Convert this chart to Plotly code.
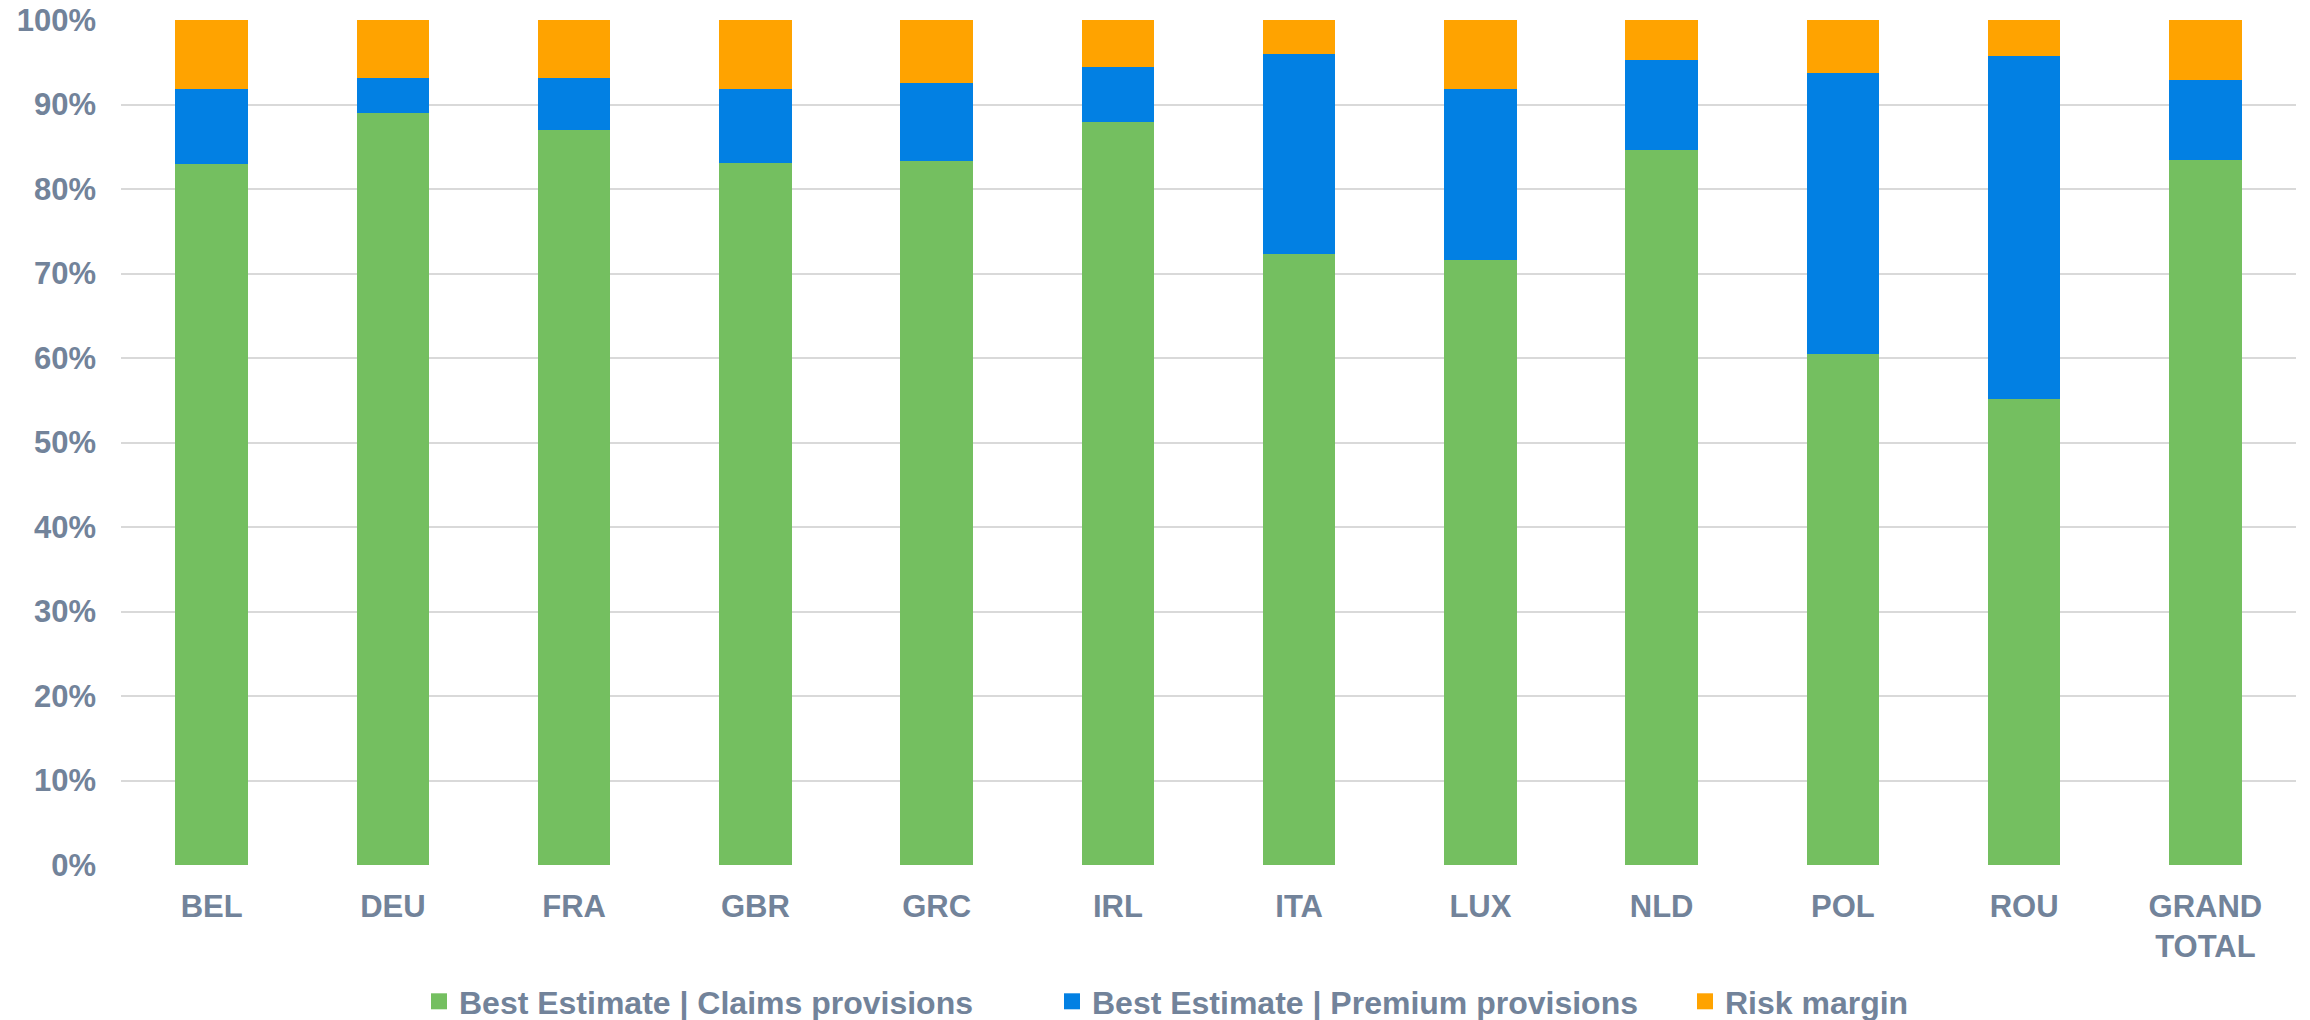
import plotly.graph_objects as go

# Technical provisions composition by country (% of total)
countries = ["BEL", "DEU", "FRA", "GBR", "GRC", "IRL", "ITA", "LUX", "NLD", "POL", "ROU", "GRAND<br>TOTAL"]
claims_provisions = [82.9, 89.0, 87.0, 83.1, 83.3, 87.9, 72.3, 71.6, 84.6, 60.5, 55.2, 83.4]
premium_provisions = [8.9, 4.1, 6.1, 8.7, 9.3, 6.5, 23.7, 20.2, 10.7, 33.2, 40.5, 9.5]
risk_margin = [round(100 - c - p, 1) for c, p in zip(claims_provisions, premium_provisions)]

series_names = ["Best Estimate | Claims provisions", "Best Estimate | Premium provisions", "Risk margin"]
series_values = [claims_provisions, premium_provisions, risk_margin]
series_colors = ["#74BF60", "#0280E3", "#FFA300"]

TEXT = "#72839A"
FONT = "Liberation Sans, Arial, sans-serif"

fig = go.Figure()
for name, vals, col in zip(series_names, series_values, series_colors):
    fig.add_trace(go.Bar(
        x=countries, y=vals, name=name, marker=dict(color=col, line=dict(width=0)),
        showlegend=False,
    ))
# square legend keys
for name, col in zip(series_names, series_colors):
    fig.add_trace(go.Scatter(
        x=[None], y=[None], mode="markers", name=name,
        marker=dict(symbol="square", size=17, color=col),
        showlegend=True,
    ))

fig.update_layout(
    width=2310, height=1020,
    barmode="stack", bargap=0.6,
    plot_bgcolor="white", paper_bgcolor="white",
    margin=dict(l=121, r=14, t=20, b=0, autoexpand=False),
    font=dict(family=FONT, color=TEXT, size=31, weight="bold"),
    legend=dict(
        orientation="h", x=0.137, xanchor="left", y=-0.009, yanchor="bottom",
        font=dict(size=32, color=TEXT, family=FONT, weight="bold"),
        entrywidth=588, entrywidthmode="pixels", traceorder="normal",
        itemsizing="trace",
    ),
)
fig.update_xaxes(
    showgrid=False, showline=False, zeroline=False, ticks="",
    tickfont=dict(size=31, color=TEXT, family=FONT, weight="bold"),
    ticklabelstandoff=20,
)
fig.update_yaxes(
    domain=[0.155, 1],
    range=[0, 100], dtick=10, ticksuffix="%",
    showgrid=True, gridcolor="#D9D9D9", gridwidth=2,
    zeroline=False, showline=False, ticks="",
    tickfont=dict(size=31, color=TEXT, family=FONT, weight="bold"),
    ticklabelstandoff=24,
)

fig.write_html("out.html")
